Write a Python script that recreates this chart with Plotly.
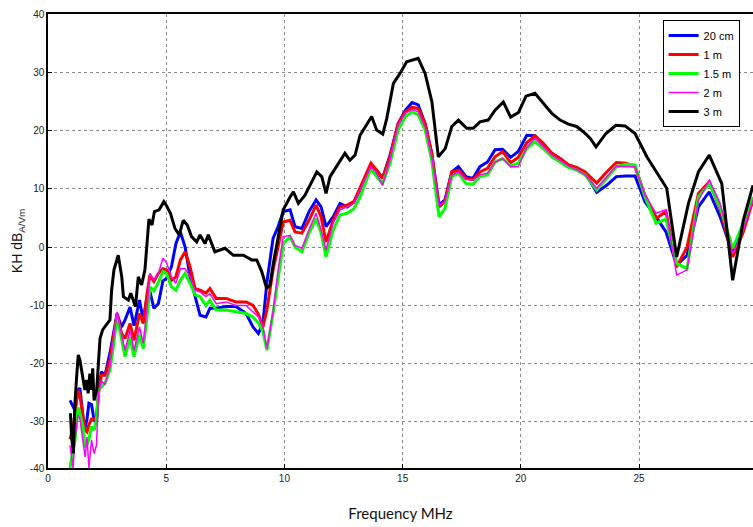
import plotly.graph_objects as go

# Frequency grid (MHz) shared by the 20 cm, 1 m, 1.5 m and 2 m curves
freq = [0.93, 1.06, 1.14, 1.27, 1.35, 1.48, 1.57, 1.65, 1.73, 1.84, 1.95, 2.05, 2.14, 2.26, 2.41,
        2.62, 2.77, 2.92, 3.11, 3.26, 3.47, 3.64, 3.87, 4.03, 4.19, 4.31, 4.48, 4.67, 4.86, 5.01,
        5.22, 5.41, 5.60, 5.80, 6.01, 6.22, 6.43, 6.68, 6.85, 7.11, 7.53, 7.95, 8.38, 8.67, 8.90,
        9.09, 9.26, 9.52, 9.73, 9.95, 10.24, 10.45, 10.74, 11.04, 11.34, 11.55, 11.76, 12.06, 12.35,
        12.65, 12.94, 13.20, 13.66, 13.90, 14.15, 14.47, 14.81, 15.12, 15.40, 15.66, 15.95, 16.23,
        16.54, 16.79, 17.08, 17.36, 17.68, 17.98, 18.27, 18.59, 18.91, 19.23, 19.57, 19.89, 20.25,
        20.60, 20.95, 21.31, 21.66, 22.01, 22.36, 22.72, 23.21, 23.63, 24.04, 24.45, 24.83, 25.25,
        25.72, 26.14, 26.59, 27.03, 27.51, 27.97, 28.43, 28.96, 29.41, 29.82]

kh_20cm = [-26.3, -27.5, -28.0, -24.5, -24.2, -29.1, -31.0, -29.5, -26.8, -27.0, -29.7, -30.2, -24.5, -21.4, -22.0,
           -18.2, -15.0, -11.5, -13.7, -12.5, -10.3, -13.5, -9.1, -12.5, -8.5, -7.6, -10.5, -9.7, -5.8, -5.4,
           -3.4, 0.6, 2.6, 0.0, -5.1, -8.5, -11.7, -12.0, -10.5, -10.5, -10.2, -10.2, -11.4, -13.7, -14.8,
           -13.1, -6.0, 1.5, 3.5, 6.1, 6.4, 3.5, 3.2, 6.1, 8.1, 6.9, 3.5, 5.2, 7.5,
           6.9, 7.8, 9.8, 14.1, 13.2, 11.8, 15.8, 21.2, 23.5, 24.8, 24.4, 21.2, 16.1,
           7.2, 8.1, 12.9, 13.8, 12.1, 11.8, 13.8, 14.6, 16.7, 16.8, 15.4, 16.4, 19.2,
           19.1, 17.5, 16.1, 15.2, 14.1, 13.5, 12.7, 9.4, 10.6, 12.1, 12.2, 12.2, 7.8,
           5.2, 2.6, -3.1, -1.4, 6.9, 9.5, 5.2, -1.1, 3.5, 8.1]

kh_1m = [-33.0, -31.0, -28.5, -24.5, -25.5, -29.1, -31.4, -31.7, -30.5, -29.5, -29.5, -29.1, -25.0, -22.0, -22.0,
         -19.4, -15.5, -11.4, -14.8, -15.7, -13.1, -16.0, -11.4, -13.1, -8.0, -4.8, -5.9, -4.5, -3.7, -3.9,
         -5.7, -5.1, -2.2, -0.8, -3.4, -7.1, -7.4, -7.9, -7.1, -8.8, -8.8, -9.4, -9.4, -10.0, -11.5,
         -13.7, -10.8, -3.9, 0.0, 4.3, 4.6, 2.6, 2.4, 4.6, 7.2, 5.2, 0.9, 4.6, 6.9,
         7.2, 7.8, 10.1, 14.4, 13.2, 11.8, 15.5, 21.2, 23.2, 24.0, 23.8, 21.2, 16.1,
         6.9, 7.8, 12.9, 13.2, 11.8, 11.6, 12.9, 13.5, 15.5, 16.4, 14.5, 15.4, 17.9,
         19.1, 17.8, 16.1, 15.2, 14.1, 13.7, 12.9, 11.0, 12.9, 14.5, 14.4, 13.8, 8.9,
         4.9, 6.1, -3.4, 0.0, 9.2, 11.2, 6.6, -1.7, 2.6, 8.1]

kh_1_5m = [-37.9, -35.0, -33.1, -27.5, -28.5, -30.8, -34.3, -34.0, -33.0, -30.8, -31.4, -29.7, -24.5, -24.0, -23.4,
           -21.1, -17.0, -11.9, -16.0, -18.8, -15.5, -18.8, -15.0, -17.4, -12.0, -6.8, -7.5, -6.0, -4.2, -4.5,
           -6.8, -7.4, -5.7, -4.5, -6.2, -8.2, -8.5, -10.0, -9.1, -10.8, -10.8, -11.1, -11.4, -12.0, -13.0,
           -14.5, -17.7, -11.4, -5.1, 0.6, 1.8, 0.0, -0.8, 2.4, 4.9, 2.4, -1.7, 2.9, 5.5,
           5.8, 6.6, 8.6, 13.5, 12.1, 10.9, 14.4, 20.1, 22.4, 23.2, 22.7, 20.1, 14.9,
           5.2, 6.6, 12.1, 12.7, 10.9, 10.8, 12.1, 12.4, 14.6, 15.2, 13.9, 14.4, 16.9,
           18.1, 16.9, 15.5, 14.6, 13.7, 13.2, 12.4, 9.8, 11.8, 13.8, 14.2, 14.1, 8.6,
           4.1, 4.8, -2.8, -3.7, 8.6, 10.9, 6.9, -0.2, 4.1, 8.6]

kh_2m = [-34.0, -37.9, -33.0, -28.8, -29.5, -33.7, -36.0, -32.6, -37.9, -33.1, -35.4, -34.0, -25.1, -23.0, -23.5,
         -20.5, -16.0, -11.1, -15.0, -17.7, -14.2, -17.7, -13.7, -16.5, -10.5, -4.5, -5.7, -4.5, -1.9, -2.6,
         -5.1, -6.2, -3.7, -3.7, -5.1, -7.4, -7.7, -8.5, -8.0, -9.7, -9.4, -10.0, -10.0, -11.1, -12.0,
         -13.5, -17.4, -11.0, -4.0, 1.8, 2.0, 0.3, -0.2, 3.0, 5.8, 3.0, -0.5, 4.1, 6.4,
         6.9, 7.5, 9.8, 13.8, 12.7, 10.6, 15.0, 21.0, 23.0, 23.6, 23.2, 20.6, 15.5,
         7.2, 7.8, 12.3, 12.9, 11.6, 11.5, 12.4, 12.7, 14.6, 15.2, 13.8, 13.8, 17.1,
         18.7, 17.2, 15.8, 14.9, 13.9, 13.3, 12.4, 10.1, 12.1, 13.9, 13.8, 13.8, 8.9,
         5.8, 6.4, -4.8, -3.9, 8.0, 11.5, 7.5, -1.1, 2.9, 8.1]

# 3 m curve has its own frequency points
freq_3m = [0.95, 1.00, 1.07, 1.14, 1.21, 1.28, 1.35, 1.42, 1.49, 1.56, 1.63, 1.70, 1.77, 1.85, 1.89,
           1.95, 2.06, 2.13, 2.20, 2.31, 2.41, 2.51, 2.62, 2.69, 2.79, 2.97, 3.12, 3.19, 3.40, 3.50,
           3.70, 3.82, 3.96, 4.10, 4.17, 4.27, 4.40, 4.50, 4.70, 4.90, 5.00, 5.18, 5.37, 5.55, 5.72,
           5.89, 6.07, 6.29, 6.43, 6.64, 6.78, 7.06, 7.49, 7.84, 8.26, 8.62, 8.83, 9.04, 9.25, 9.39,
           9.53, 9.74, 9.95, 10.24, 10.38, 10.59, 10.87, 11.37, 11.58, 11.76, 11.93, 12.56, 12.77,
           12.99, 13.20, 13.69, 13.90, 14.16, 14.33, 14.61, 14.89, 15.17, 15.66, 15.95, 16.24, 16.51,
           16.80, 17.08, 17.36, 17.71, 17.99, 18.27, 18.62, 18.91, 19.26, 19.57, 19.90, 20.22, 20.60,
           20.95, 21.30, 21.66, 22.01, 22.36, 22.64, 22.93, 23.18, 23.60, 24.02, 24.41, 24.83, 25.33,
           25.75, 26.17, 26.59, 27.09, 27.51, 27.97, 28.50, 28.96, 29.41, 29.82]

kh_3m = [-28.5, -32.6, -35.4, -26.8, -22.3, -18.5, -19.4, -21.4, -22.5, -24.5, -22.8, -25.1, -21.7, -24.5, -20.8,
         -26.3, -24.5, -18.8, -15.7, -14.2, -13.7, -13.1, -12.5, -7.4, -3.9, -1.4, -5.1, -8.5, -9.1, -7.9,
         -10.2, -5.1, -6.5, -3.9, 0.0, 4.8, 3.8, 6.1, 6.4, 7.8, 7.2, 5.8, 3.2, 2.1, 4.6,
         3.8, 1.8, 0.9, 2.1, 0.6, 2.1, -0.8, -0.2, -1.4, -1.4, -2.2, -2.2, -4.2, -7.1, -6.5,
         -2.8, 1.8, 6.4, 8.6, 9.5, 7.5, 8.9, 12.9, 12.1, 9.2, 12.1, 16.1, 14.9,
         15.8, 19.2, 22.4, 20.1, 19.4, 22.1, 28.1, 29.8, 31.8, 32.4, 29.8, 24.9, 15.5,
         16.9, 20.7, 21.8, 20.4, 20.4, 21.5, 21.8, 23.5, 24.9, 22.3, 23.1, 25.9, 26.4,
         24.7, 23.0, 21.8, 21.1, 20.7, 19.8, 18.7, 17.2, 19.5, 20.9, 20.8, 19.5, 15.5,
         12.9, 10.1, -1.7, 7.5, 12.9, 15.8, 10.9, -5.7, 4.6, 10.6]

y_tick_vals = [-37.9, -30, -20, -10, 0, 10, 20, 30, 40]
y_tick_text = ["-40", "-30", "-20", "-10", "0", "10", "20", "30", "40"]
x_tick_vals = [0, 5, 10, 15, 20, 25]

fig = go.Figure()
series = [
    ("20 cm", freq, kh_20cm, "#0000FF", 3),
    ("1 m", freq, kh_1m, "#FF0000", 3),
    ("1.5 m", freq, kh_1_5m, "#00FF00", 3),
    ("2 m", freq, kh_2m, "#FF00FF", 1.5),
    ("3 m", freq_3m, kh_3m, "#000000", 3),
]
for name, xs, ys, col, w in series:
    fig.add_trace(go.Scatter(x=xs, y=ys, mode="lines", name=name,
                             line=dict(color=col, width=w)))

axis_font = dict(family="Liberation Sans, Arial, sans-serif", size=10, color="#222222")
grid_col = "#8a8a8a"
fig.update_layout(
    width=753, height=527,
    margin=dict(l=48, r=0, t=14, b=59),
    paper_bgcolor="white", plot_bgcolor="white",
    font=dict(family="Liberation Sans, Arial, sans-serif", color="#111111"),
    showlegend=True,
    legend=dict(x=0.981, y=0.987, xanchor="right", yanchor="top",
                bgcolor="white", bordercolor="black", borderwidth=1,
                font=dict(family="Liberation Sans, Arial, sans-serif", size=11, color="black"),
                tracegroupgap=0, itemwidth=30),
    xaxis=dict(range=[0, 29.82], tickvals=x_tick_vals, ticks="inside", ticklen=4,
               tickcolor="black", showline=True, linecolor="black", linewidth=1.5,
               mirror=True, showgrid=True, gridcolor=grid_col, griddash="dot", gridwidth=1,
               zeroline=False, tickfont=axis_font,
               title=dict(text="Frequency MHz", standoff=26,
                          font=dict(family="Lato, Open Sans, sans-serif", size=15, color="#111111"))),
    yaxis=dict(range=[-37.9, 40], tickvals=y_tick_vals, ticktext=y_tick_text, ticks="inside",
               ticklen=4, tickcolor="black", showline=True, linecolor="black", linewidth=1.5,
               mirror=False, showgrid=True, gridcolor=grid_col, griddash="dot", gridwidth=1,
               zeroline=False, tickfont=axis_font,
               title=dict(text="KH dB<sub>A/Vm</sub>", standoff=4,
                          font=dict(family="Liberation Sans, Arial, sans-serif", size=14, color="#111111"))),
)

fig.write_html("out.html")
